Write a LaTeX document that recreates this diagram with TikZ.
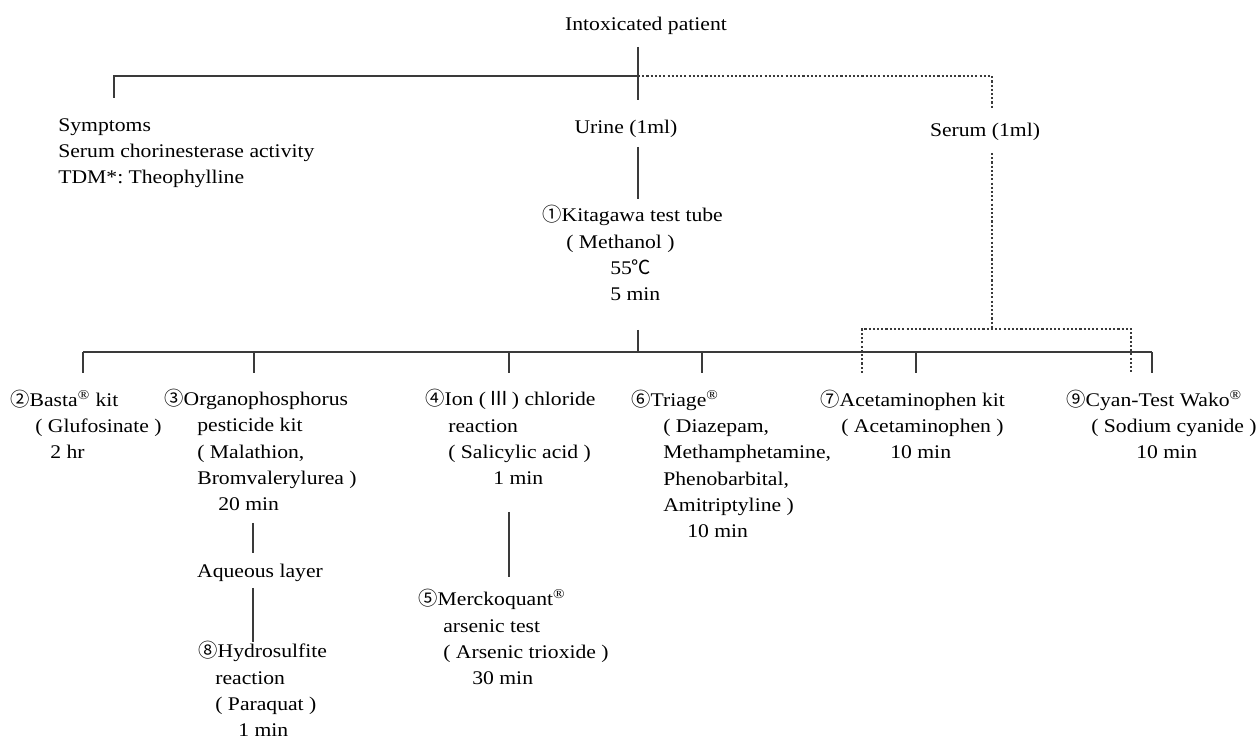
\documentclass[tikz,border=0pt]{standalone}
\usepackage{fontspec}
\setmainfont{Liberation Serif}[FakeStretch=1.12]
\newfontfamily\circfont{Noto Sans CJK JP}[Scale=1.0]
\definecolor{lineGray}{HTML}{3A3A3A}
\newcommand{\cnum}[1]{{\circfont #1}}
\newcommand{\reg}{\textsuperscript{®}}
\frenchspacing

\begin{document}
\begin{tikzpicture}[x=0.02cm, y=-0.02cm,
  every node/.style={font=\fontsize{11}{15}\selectfont, inner sep=0pt, align=left},
  tree/.style={draw=lineGray, line width=0.6pt},
  serumtree/.style={tree, dash pattern=on 1.2pt off 1.2pt}]
  \useasboundingbox (0,0) rectangle (1258,742);

  % samples (base = baseline of the last line)
  \node[anchor=base] (patient) at (646,31) {Intoxicated patient};
  \node[anchor=base west] (symptoms) at (58,184)
    {Symptoms\\Serum chorinesterase activity\\TDM*: Theophylline};
  \node[anchor=base] (urine) at (626,134) {Urine (1ml)};
  \node[anchor=base] (serum) at (985,137) {Serum (1ml)};
  \node[anchor=base west] (kitagawa) at (542,301)
    {\cnum{①}Kitagawa test tube\\\hspace*{0.48cm}( Methanol )\\
     \hspace*{1.36cm}55{\circfont ℃}\\\hspace*{1.36cm}5 min};

  % kits
  \node[anchor=base west] (basta) at (10,459)
    {\cnum{②}Basta\reg{} kit\\\hspace*{0.5cm}( Glufosinate )\\\hspace*{0.8cm}2 hr};
  \node[anchor=base west] (organo) at (164,511)
    {\cnum{③}Organophosphorus\\\hspace*{0.66cm}pesticide kit\\
     \hspace*{0.66cm}( Malathion,\\\hspace*{0.66cm}Bromvalerylurea )\\
     \hspace*{1.08cm}20 min};
  \node[anchor=base west] (ion) at (425,485)
    {\cnum{④}Ion (\,{\circfont Ⅲ}\,) chloride\\\hspace*{0.46cm}reaction\\
     \hspace*{0.46cm}( Salicylic acid )\\\hspace*{1.36cm}1 min};
  \node[anchor=base west] (triage) at (631,538)
    {\cnum{⑥}Triage\reg\\\hspace*{0.64cm}( Diazepam,\\\hspace*{0.64cm}Methamphetamine,\\
     \hspace*{0.64cm}Phenobarbital,\\\hspace*{0.64cm}Amitriptyline )\\\hspace*{1.12cm}10 min};
  \node[anchor=base west] (acet) at (820,459)
    {\cnum{⑦}Acetaminophen kit\\\hspace*{0.42cm}( Acetaminophen )\\\hspace*{1.4cm}10 min};
  \node[anchor=base west] (cyan) at (1066,459)
    {\cnum{⑨}Cyan-Test Wako\reg\\\hspace*{0.5cm}( Sodium cyanide )\\\hspace*{1.4cm}10 min};

  % follow-up tests
  \node[anchor=base] (aqueous) at (260,578) {Aqueous layer};
  \node[anchor=base west] (hydro) at (198,737)
    {\cnum{⑧}Hydrosulfite\\\hspace*{0.34cm}reaction\\\hspace*{0.34cm}( Paraquat )\\
     \hspace*{0.8cm}1 min};
  \node[anchor=base west] (merck) at (418,685)
    {\cnum{⑤}Merckoquant\reg\\\hspace*{0.5cm}arsenic test\\
     \hspace*{0.5cm}( Arsenic trioxide )\\\hspace*{1.08cm}30 min};

  % junctions
  \coordinate (pTop) at (638,47);
  \coordinate (pBot) at (638,100);
  \coordinate (symJ) at (114,76);
  \coordinate (symEnd) at (114,98);
  \coordinate (midJ) at (638,76);
  \coordinate (serJ) at (992,76);
  \coordinate (serEnd) at (992,109);
  \coordinate (uTop) at (638,147);
  \coordinate (uBot) at (638,199);
  \coordinate (kTop) at (638,330);
  \coordinate (kBot) at (638,352);
  \coordinate (sTop) at (992,153);
  \coordinate (sBot) at (992,329);
  \coordinate (barL) at (83,352);
  \coordinate (barR) at (1152,352);
  \coordinate (dashL) at (862,329);
  \coordinate (dashR) at (1131,329);
  \coordinate (oTop) at (253,523);
  \coordinate (oBot) at (253,553);
  \coordinate (aTop) at (253,588);
  \coordinate (aBot) at (253,642);
  \coordinate (iTop) at (509,512);
  \coordinate (iBot) at (509,577);
  \foreach \x/\n in {83/basta,254/organo,509/ion,702/triage,916/acet,1152/cyan}
    \coordinate (\n Drop) at (\x,373);

  % urine and clinical branch
  \draw[tree] (pTop) -- (pBot);
  \draw[tree] (symEnd) -- (symJ) -- (midJ);
  \draw[tree] (uTop) -- (uBot);
  \draw[tree] (kTop) -- (kBot);
  \draw[tree] (barL) -- (barR);
  \foreach \n in {basta,organo,ion,triage,acet,cyan}
    \draw[tree] (\n Drop) -- (\n Drop |- barR);
  \draw[tree] (oTop) -- (oBot);
  \draw[tree] (aTop) -- (aBot);
  \draw[tree] (iTop) -- (iBot);

  % serum branch
  \draw[serumtree] (midJ) -- (serJ) -- (serEnd);
  \draw[serumtree] (sTop) -- (sBot);
  \draw[serumtree] (dashL |- acetDrop) -- (dashL) -- (dashR) -- (dashR |- acetDrop);
\end{tikzpicture}
\end{document}
